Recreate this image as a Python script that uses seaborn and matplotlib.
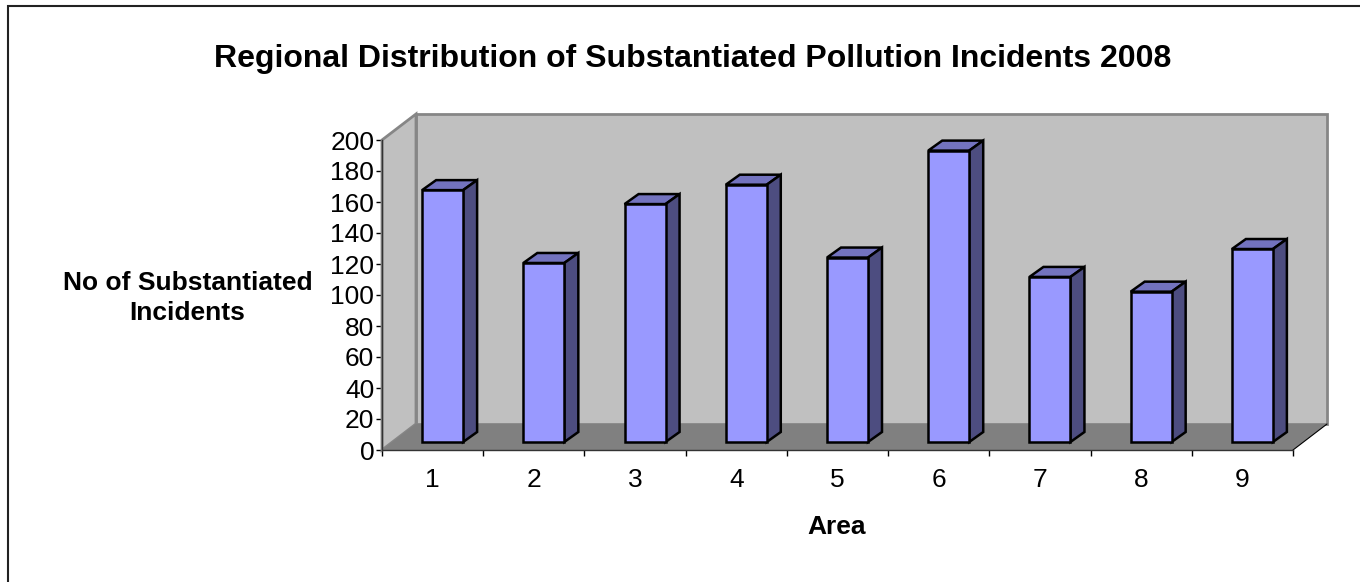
import matplotlib
matplotlib.use('Agg')
import matplotlib.pyplot as plt
from matplotlib.lines import Line2D
from matplotlib.patches import Polygon
import seaborn as sns

areas = [1, 2, 3, 4, 5, 6, 7, 8, 9]
incidents = [162.5, 115.5, 153.5, 166, 119, 188, 106.5, 97, 124.5]
y_ticks = [0, 20, 40, 60, 80, 100, 120, 140, 160, 180, 200]

sns.set_theme(style='white')
plt.rcParams['font.family'] = ['Liberation Sans']

fig = plt.figure(figsize=(13.6, 5.82), dpi=100)
# axes box = the front plane of the 3D chart
ax = fig.add_axes([382 / 1360, 1 - 450 / 582, 911 / 1360, 310 / 582])

sns.barplot(x=areas, y=incidents, color='#9999ff', saturation=1, width=0.405,
            edgecolor='black', linewidth=1.8, ax=ax, zorder=5)
ax.set_xlim(-0.5, 8.5)
ax.set_ylim(0, 200)

# depth of the walls and of the bars, in data units
dx = 34 / (911 / 9)
dy = 26 / 1.55
bar_dx = 14 / (911 / 9)
bar_dy = 10 / 1.55
shift_x = 10 / (911 / 9)
shift_y = 8 / 1.55

x0, x1 = -0.5, 8.5
wall = '#c0c0c0'
edge = '#868686'


def face(pts, color, ec='none', lw=0, z=1):
    ax.add_patch(Polygon(pts, closed=True, fc=color, ec=ec, lw=lw, zorder=z,
                         clip_on=False, joinstyle='miter'))


face([(x0 + dx, dy), (x1 + dx, dy), (x1 + dx, 200 + dy), (x0 + dx, 200 + dy)], wall, edge, 2)
face([(x0, 0), (x0 + dx, dy), (x0 + dx, 200 + dy), (x0, 200)], wall, edge, 2)
face([(x0, 0), (x1, 0), (x1 + dx, dy), (x0 + dx, dy)], '#808080')
ax.plot([x1, x1 + dx], [0, dy], color='black', lw=0.8, clip_on=False, zorder=2)

# move the fronts off the floor edge and add top and side faces
for bar, val in zip(ax.patches[:], incidents):
    if bar.get_width() > 1:
        continue
    left = bar.get_x() + shift_x
    bar.set_x(left)
    bar.set_y(shift_y)
    bar.set_clip_on(False)
    right = left + bar.get_width()
    top = val + shift_y
    face([(left, top), (right, top), (right + bar_dx, top + bar_dy), (left + bar_dx, top + bar_dy)],
         '#7373bf', 'black', 1.8, 4)
    face([(right, shift_y), (right + bar_dx, shift_y + bar_dy), (right + bar_dx, top + bar_dy), (right, top)],
         '#4d4d80', 'black', 1.8, 4)

for s in ['top', 'right']:
    ax.spines[s].set_visible(False)
for s in ['left', 'bottom']:
    ax.spines[s].set_color('#333333')
    ax.spines[s].set_linewidth(1)
    ax.spines[s].set_zorder(3)

ax.set_yticks(y_ticks)
ax.set_xticks([i - 0.5 for i in range(10)])
ax.set_xticklabels([])
ax.set_xticks(range(9), labels=areas, minor=True)
ax.tick_params(axis='x', which='major', length=4, width=1, color='black', bottom=True)
ax.tick_params(axis='x', which='minor', length=0, pad=13, labelsize=19, labelcolor='black')
ax.tick_params(axis='y', length=4, width=1, color='black', left=True, pad=1.5,
               labelsize=19, labelcolor='black')
ax.set_xlabel('')
ax.set_ylabel('')

fig.text(692.5 / 1360, 1 - 58.5 / 582, 'Regional Distribution of Substantiated Pollution Incidents 2008',
         ha='center', va='center', fontsize=23, fontweight='bold', color='black')
fig.text(187.5 / 1360, 1 - 298 / 582, 'No of Substantiated\nIncidents', ha='center', va='center',
         fontsize=19, fontweight='bold', color='black', linespacing=1.36)
fig.text(837 / 1360, 1 - 527.5 / 582, 'Area', ha='center', va='center',
         fontsize=19, fontweight='bold', color='black')

# outer chart frame, only top and left fall inside the picture
frame_x = 7.5 / 1360
frame_y = 1 - 5.8 / 582
fig.add_artist(Line2D([frame_x, frame_x, 1], [0, frame_y, frame_y], color='#222222', lw=1.5,
                      solid_joinstyle='miter'))

fig.savefig('out.png', dpi=100)
